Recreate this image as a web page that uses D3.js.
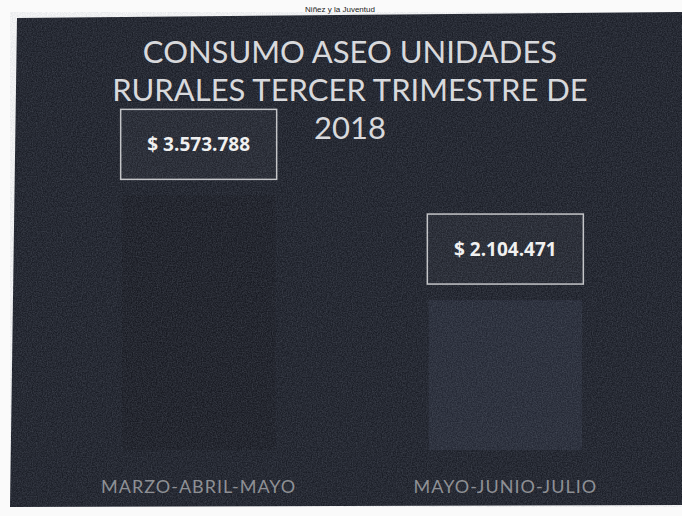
<!DOCTYPE html>
<html>
<head>
<meta charset="utf-8">
<script src="https://cdn.jsdelivr.net/npm/d3@7"></script>
<style>
  body { margin: 0; background: #fafafa; }
  svg { display: block; }
</style>
</head>
<body>
<svg width="682" height="516"></svg>
<script>
const categories = ['MARZO-ABRIL-MAYO', 'MAYO-JUNIO-JULIO'];
const values = [3573788, 2104471];
const valueLabels = ['$ 3.573.788', '$ 2.104.471'];
const titleLines = ['CONSUMO ASEO UNIDADES', 'RURALES TERCER TRIMESTRE DE', '2018'];

const width = 682;
const height = 516;
const svg = d3.select('svg');

const defs = svg.append('defs');
const noise = defs.append('filter').attr('id', 'grain')
  .attr('x', 0).attr('y', 0).attr('width', '100%').attr('height', '100%');
noise.append('feTurbulence')
  .attr('type', 'fractalNoise')
  .attr('baseFrequency', 0.8)
  .attr('numOctaves', 2)
  .attr('seed', 4);
noise.append('feColorMatrix')
  .attr('type', 'matrix')
  .attr('values', '0 0 0 0 0.3  0 0 0 0 0.34  0 0 0 0 0.42  0 0 0 0.6 -0.15');

// header text from the scanned page
svg.append('text')
  .attr('x', 340).attr('y', 12)
  .attr('text-anchor', 'middle')
  .attr('font-family', 'Liberation Sans, Arial, sans-serif')
  .attr('font-size', 8)
  .attr('fill', '#222')
  .text('Niñez y la Juventud');

// dark slide panel (slightly skewed, like the scan)
const panel = 'M17,18 L682,12 L682,505 L10,507 Z';
svg.append('path').attr('d', panel).attr('fill', '#1b1e27');

const x = d3.scaleBand()
  .domain(categories)
  .range([30, 674])
  .paddingInner(0.5)
  .paddingOuter(0.3);

const y = d3.scaleLinear()
  .domain([0, 4000000])
  .range([450, 165]);

const barFills = ['#181a22', '#242834'];

svg.append('g')
  .selectAll('rect')
  .data(values)
  .join('rect')
  .attr('x', (d, i) => x(categories[i]))
  .attr('y', d => y(d))
  .attr('width', x.bandwidth())
  .attr('height', d => y(0) - y(d))
  .attr('fill', (d, i) => barFills[i]);

// scan grain over everything dark
svg.append('path').attr('d', panel).attr('filter', 'url(#grain)').attr('opacity', 0.7);

// title
svg.append('g')
  .selectAll('text')
  .data(titleLines)
  .join('text')
  .attr('x', 350)
  .attr('y', (d, i) => 63 + i * 38)
  .attr('text-anchor', 'middle')
  .attr('font-family', 'Lato, Open Sans, sans-serif')
  .attr('font-size', 31)
  .attr('fill', '#d8d9dc')
  .text(d => d);

// value label boxes
const boxW = 156;
const boxH = 70;
const labels = svg.append('g')
  .selectAll('g')
  .data(values)
  .join('g')
  .attr('transform', (d, i) =>
    `translate(${x(categories[i]) + x.bandwidth() / 2}, ${y(d) - 16 - boxH})`);

labels.append('rect')
  .attr('x', -boxW / 2)
  .attr('y', 0)
  .attr('width', boxW)
  .attr('height', boxH)
  .attr('fill', 'rgba(255,255,255,0.03)')
  .attr('stroke', '#c4c5c8')
  .attr('stroke-width', 1.5);

labels.append('text')
  .attr('x', 0)
  .attr('y', boxH / 2 + 7)
  .attr('text-anchor', 'middle')
  .attr('font-family', 'Open Sans, sans-serif')
  .attr('font-weight', 'bold')
  .attr('font-size', 19)
  .attr('fill', '#f0f0f0')
  .text((d, i) => valueLabels[i]);

// category axis
const axis = svg.append('g')
  .attr('transform', `translate(0, ${y(0)})`)
  .call(d3.axisBottom(x).tickSize(0).tickPadding(30));
axis.select('.domain').remove();
axis.selectAll('text')
  .attr('font-family', 'Lato, Open Sans, sans-serif')
  .attr('font-size', 18)
  .attr('letter-spacing', 1)
  .attr('fill', '#8e9095');
</script>
</body>
</html>
